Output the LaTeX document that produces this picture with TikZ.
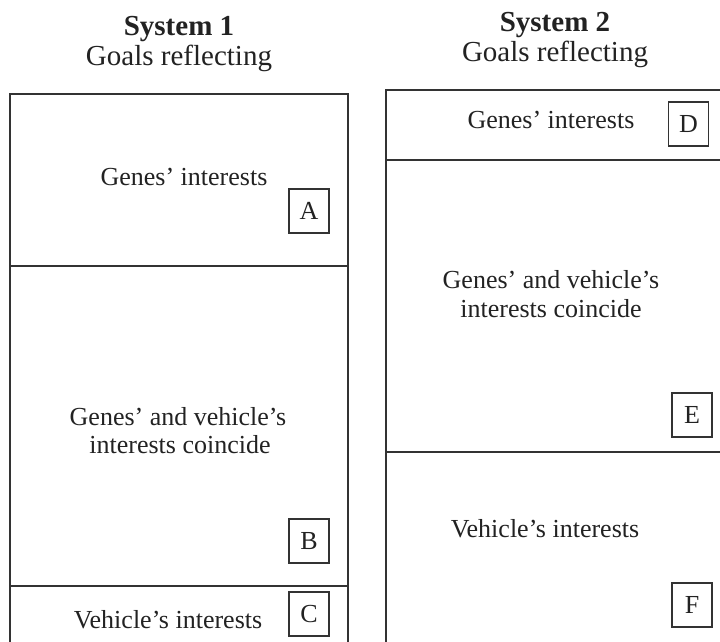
\documentclass[tikz,border=0pt]{standalone}
\usepackage{fontspec}
\setmainfont{Liberation Serif}
\definecolor{linec}{HTML}{333333}
\definecolor{textc}{HTML}{222222}
\begin{document}
\begin{tikzpicture}[x=1pt,y=-1pt,
  frame/.style={draw=linec,line width=1.8pt},
  lettbox/.style={draw=linec,line width=1.1pt,minimum width=40pt,minimum height=44pt,inner sep=0pt,font=\fontsize{26}{28}\selectfont,text=textc},
  body/.style={font=\fontsize{26}{28}\selectfont,text=textc,anchor=base,inner sep=0pt},
  titletext/.style={font=\fontsize{29}{31}\selectfont,text=textc,anchor=base,inner sep=0pt}]
\useasboundingbox (0,0) rectangle (720,642);
\clip (0,0) rectangle (720,642);
% titles
\node[titletext,font=\fontsize{29}{31}\selectfont\bfseries] (s1) at (179,36) {System 1};
\node[titletext] (g1) at (179,66) {Goals reflecting};
\node[titletext,font=\fontsize{29}{31}\selectfont\bfseries] (s2) at (555,32) {System 2};
\node[titletext] (g2) at (555,62) {Goals reflecting};
% frames
\draw[frame] (10,660) -- (10,94) -- (348,94) -- (348,660);
\draw[frame] (10,266) -- (348,266);
\draw[frame] (10,586) -- (348,586);
\draw[frame] (386,660) -- (386,90) -- (730,90) -- (730,660);
\draw[frame] (386,160) -- (730,160);
\draw[frame] (386,452) -- (730,452);
% system 1 texts
\node[body] (tA) at (184,185) {Genes’ interests};
\node[body] (tB1) at (178,425) {Genes’ and vehicle’s};
\node[body] (tB2) at (180,453) {interests coincide};
\node[body] (tC) at (168,628) {Vehicle’s interests};
% system 2 texts
\node[body] (tD) at (551,128) {Genes’ interests};
\node[body] (tE1) at (551,288) {Genes’ and vehicle’s};
\node[body] (tE2) at (551,317) {interests coincide};
\node[body] (tF) at (545,537) {Vehicle’s interests};
% letter boxes
\node[lettbox] (A) at (309,211) {A};
\node[lettbox] (B) at (309,541) {B};
\node[lettbox] (C) at (309,614) {C};
\node[lettbox] (D) at (688.5,124) {D};
\node[lettbox] (E) at (692,415) {E};
\node[lettbox] (F) at (692,605) {F};
\end{tikzpicture}
\end{document}
